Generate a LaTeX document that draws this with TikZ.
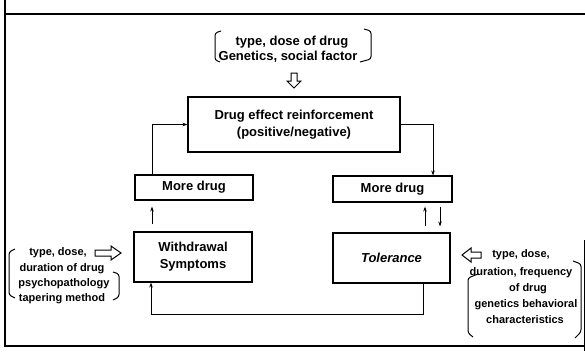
\documentclass[tikz,border=0pt]{standalone}
\usepackage{fontspec}
\setmainfont{Liberation Sans}
\usetikzlibrary{arrows.meta}
\tikzset{
  mainfont/.style={font=\fontsize{13}{15}\selectfont\bfseries},
  annfont/.style={font=\fontsize{11}{13}\selectfont\bfseries},
  boxnode/.style={draw, line width=1.1pt, mainfont, align=center, inner sep=0pt},
  txt/.style={annfont, inner sep=0pt},
  arr/.style={line width=0.9pt, -{Stealth[length=5pt,width=3.5pt]}},
  blk/.style={draw, line width=1pt, fill=white, line join=miter},
  br/.style={line width=1pt, rounded corners=2.5pt},
  frame/.style={line width=1.6pt}
}
\begin{document}
\begin{tikzpicture}[x=1pt,y=-1pt]
\useasboundingbox (0,0) rectangle (585,351);
% frame
\draw[frame] (5,0) -- (5,346) -- (585,346);
\draw[line width=1.2pt] (5,14) -- (585,14);
\draw[line width=1pt] (584,240) -- (584,351);

% top factors
\node[mainfont, inner sep=0pt] (t1) at (292,42) {type, dose of drug};
\node[mainfont, inner sep=0pt] (t2) at (288,57) {Genetics, social factor};
\draw[br] (221,31) -- (215,33) -- (215,60) -- (220,62);
\draw[br] (364,29) -- (371,31) -- (371,59) -- (360,62);
\coordinate (ta) at (294,73);
\draw[blk] (ta) ++(-3,0) -- ++(0,8) -- ++(-4,0) -- ++(7,7) -- ++(7,-7) -- ++(-4,0) -- ++(0,-8) -- cycle;

% boxes
\node[boxnode, minimum width=212pt, minimum height=55pt] (main) at (294,124.5) {Drug effect reinforcement\\[2pt](positive/negative)};
\node[boxnode, minimum width=118pt, minimum height=25pt] (lmd) at (194,187.5) {More drug};
\node[boxnode, minimum width=119pt, minimum height=26pt] (rmd) at (392.5,189) {More drug};
\node[boxnode, minimum width=118pt, minimum height=50pt] (wd) at (193,257) {Withdrawal\\[2pt]Symptoms};
\node[boxnode, minimum width=117pt, minimum height=50pt, font=\fontsize{13}{15}\selectfont\bfseries\itshape] (tol) at (391.5,258) {Tolerance};

% connectors
\draw[arr] ([xshift=-42pt]lmd.north) |- (main.west);
\draw[arr] (main.east) -| ([xshift=40.5pt]rmd.north);
\draw[arr] ([xshift=-41pt,yshift=7pt]wd.north) -- ([xshift=-42pt,yshift=-6pt]lmd.south);
\draw[arr] ([xshift=33.5pt,yshift=6pt]tol.north) -- ([xshift=32.5pt,yshift=-4pt]rmd.south);
\draw[arr] ([xshift=47.5pt,yshift=-4pt]rmd.south) -- ([xshift=48.5pt,yshift=6pt]tol.north);
\draw[arr] ([xshift=31.5pt]tol.south) -- ++(0,31) -| ([xshift=-42pt]wd.south);

% left annotation
\node[txt] (l1) at (58,253) {type, dose,};
\node[txt] (l2) at (62,269) {duration of drug};
\node[txt] (l3) at (64,284) {psychopathology};
\node[txt] (l4) at (62,299) {tapering method};
\draw[br] (15,249) -- (9,252) -- (9,295) -- (15,298);
\draw[br] (113,272) -- (119,274) -- (119,297) -- (113,300);
\draw[blk] (95,250) -- (111,250) -- (111,246) -- (121,253) -- (111,260) -- (111,256) -- (95,256) -- cycle;

% right annotation
\node[txt] (r1) at (521,255) {type, dose,};
\node[txt] (r2) at (521,273) {duration, frequency};
\node[txt] (r3) at (528,289) {of drug};
\node[txt] (r4) at (526,305) {genetics behavioral};
\node[txt] (r5) at (525,320) {characteristics};
\draw[br] (478,274) -- (468,278) -- (468,333) -- (473,337);
\draw[br] (573,261) -- (581,264) -- (581,332) -- (575,338);
\draw[blk] (481,252) -- (471,252) -- (471,248) -- (462,255) -- (471,262) -- (471,258) -- (481,258) -- cycle;
\end{tikzpicture}
\end{document}
